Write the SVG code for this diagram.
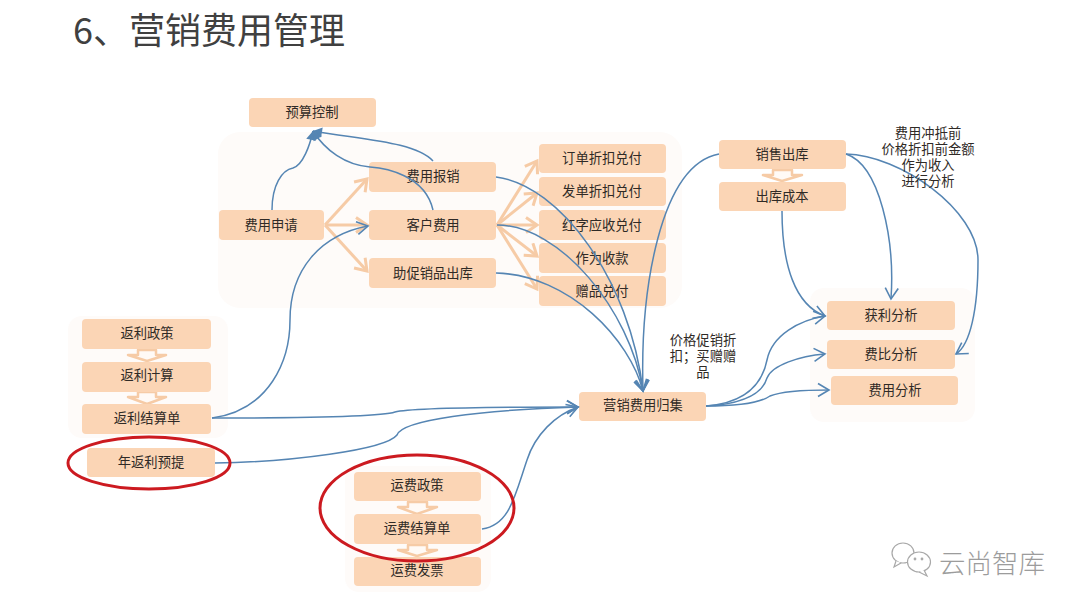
<svg xmlns="http://www.w3.org/2000/svg" width="1080" height="608" viewBox="0 0 1080 608">
<defs>
<style>
text{font-family:"Noto Sans CJK SC","Liberation Sans",sans-serif;text-anchor:middle;dominant-baseline:central}
.n rect{fill:#fbd5b5;rx:4px;ry:4px}
.n text,.l{font-size:13.3px;fill:#2f2a26}
.l{font-family:"Liberation Sans","Noto Sans CJK SC",sans-serif}
.n text{transform:translateY(-1px)}
.bg{fill:#fefbf9}
.o{fill:none;stroke:#f6cba6;stroke-width:3;marker-end:url(#po)}
.b{fill:none;stroke:#5585b3;stroke-width:1.5}
.ba{marker-end:url(#bo)}
.blk{fill:#fffaf6;stroke:#f6cba6;stroke-width:2.5;stroke-linejoin:round}
.ring{fill:none;stroke:#cc1a20;stroke-width:3}
</style>
<marker id="po" markerUnits="userSpaceOnUse" markerWidth="20" markerHeight="20" refX="13" refY="9" orient="auto"><path d="M2,1.5L13,9L2,16.5" fill="none" stroke="#f6cba6" stroke-width="3"/></marker>
<marker id="bo" markerUnits="userSpaceOnUse" markerWidth="18" markerHeight="18" refX="14" refY="8" orient="auto"><path d="M3,1.5L14,8L3,14.5" fill="none" stroke="#5585b3" stroke-width="1.6"/></marker>
<marker id="bf" markerUnits="userSpaceOnUse" markerWidth="14" markerHeight="14" refX="10" refY="6" orient="auto"><path d="M1,1L10,6L1,11Z" fill="#5585b3"/></marker>
</defs>
<rect width="1080" height="608" fill="#fff"/>
<text x="209" y="28" style="font-size:36px;fill:#404040">6、营销费用管理</text>
<rect class="bg" x="218" y="132" width="464" height="176" rx="22"/>
<rect class="bg" x="68" y="316" width="160" height="122" rx="14"/>
<rect class="bg" x="810" y="288" width="165" height="134" rx="14"/>
<rect class="bg" x="345" y="466" width="146" height="126" rx="14"/>

<g id="blocks">
<path class="blk" d="M138,350H156V355H166L147,361L128,355H138Z"/>
<path class="blk" d="M138,392H156V397H166L147,404L128,397H138Z"/>
<path class="blk" d="M408,502H427V507H437L417,514L398,507H408Z"/>
<path class="blk" d="M408,545H427V550H437L417,556L398,550H408Z"/>
<path class="blk" d="M773,170H792V175H802L782,181L763,175H773Z"/>
</g>

<g id="n-budget" class="n"><rect x="249" y="98" width="127" height="29"/><text x="312" y="112">预算控制</text></g>
<g id="n-apply" class="n"><rect x="219" y="210" width="105" height="30"/><text x="271" y="225">费用申请</text></g>
<g id="n-claim" class="n"><rect x="369" y="162" width="127" height="30"/><text x="433" y="176">费用报销</text></g>
<g id="n-cust" class="n"><rect x="369" y="210" width="127" height="30"/><text x="433" y="225">客户费用</text></g>
<g id="n-promo" class="n"><rect x="369" y="258" width="127" height="30"/><text x="433" y="273">助促销品出库</text></g>
<g id="n-p1" class="n"><rect x="539" y="144" width="127" height="29"/><text x="602" y="158">订单折扣兑付</text></g>
<g id="n-p2" class="n"><rect x="539" y="177" width="127" height="29"/><text x="602" y="191">发单折扣兑付</text></g>
<g id="n-p3" class="n"><rect x="539" y="210" width="127" height="30"/><text x="602" y="225">红字应收兑付</text></g>
<g id="n-p4" class="n"><rect x="539" y="243" width="127" height="30"/><text x="602" y="258">作为收款</text></g>
<g id="n-p5" class="n"><rect x="539" y="276" width="127" height="30"/><text x="602" y="291">赠品兑付</text></g>
<g id="n-r1" class="n"><rect x="82" y="319" width="129" height="30"/><text x="147" y="333">返利政策</text></g>
<g id="n-r2" class="n"><rect x="82" y="362" width="129" height="30"/><text x="147" y="375">返利计算</text></g>
<g id="n-r3" class="n"><rect x="82" y="404" width="129" height="30"/><text x="147" y="418">返利结算单</text></g>
<g id="n-r4" class="n"><rect x="87" y="448" width="128" height="29"/><text x="151" y="462">年返利预提</text></g>
<g id="n-f1" class="n"><rect x="354" y="472" width="127" height="29"/><text x="417" y="485">运费政策</text></g>
<g id="n-f2" class="n"><rect x="354" y="514" width="127" height="30"/><text x="417" y="528">运费结算单</text></g>
<g id="n-f3" class="n"><rect x="354" y="557" width="127" height="29"/><text x="417" y="570">运费发票</text></g>
<g id="n-s1" class="n"><rect x="719" y="140" width="127" height="29"/><text x="782" y="154">销售出库</text></g>
<g id="n-s2" class="n"><rect x="719" y="182" width="127" height="29"/><text x="782" y="196">出库成本</text></g>
<g id="n-hub" class="n"><rect x="579" y="392" width="127" height="29"/><text x="643" y="405">营销费用归集</text></g>
<g id="n-a1" class="n"><rect x="827" y="301" width="128" height="29"/><text x="891" y="315">获利分析</text></g>
<g id="n-a2" class="n"><rect x="827" y="340" width="128" height="29"/><text x="891" y="354">费比分析</text></g>
<g id="n-a3" class="n"><rect x="831" y="376" width="127" height="29"/><text x="895" y="390">费用分析</text></g>

<g id="connectors">
<path class="o" d="M325,225L367,179"/>
<path class="o" d="M325,225L367,225"/>
<path class="o" d="M325,225L367,271"/>
<path class="o" d="M497,225L537,161"/>
<path class="o" d="M497,225L537,193"/>
<path class="o" d="M497,225L537,225"/>
<path class="o" d="M497,225L537,256"/>
<path class="o" d="M497,225L537,289"/>
<path class="b" marker-end="url(#bf)" d="M272,210C272,185 282,170 293,168C303,165 310,145 313,131"/>
<path class="b" marker-end="url(#bf)" d="M433,161C415,142 365,140 313,131"/>
<path class="b" marker-end="url(#bf)" d="M433,210C425,175 385,168 370,167C345,165 325,150 313,131"/>
<path class="b ba" d="M496,177C560,185 630,280 643,391"/>
<path class="b ba" d="M497,225C560,225 630,310 643,391"/>
<path class="b ba" d="M496,273C570,275 630,340 643,391"/>
<path class="b ba" d="M719,154C660,165 640,290 643,391"/>
<path class="b ba" d="M212,418C270,410 290,360 290,320C290,270 320,235 368,226"/>
<path class="b ba" d="M212,418C300,418 380,417 395,412C410,408 500,407 578,407"/>
<path class="b ba" d="M215,463C290,462 385,450 397,435C402,420 480,410 578,407"/>
<path class="b ba" d="M482,529C510,525 515,495 527,460C535,435 555,415 578,407"/>
<path class="b ba" d="M706,406C745,403 762,385 767,360C772,335 800,320 825,316"/>
<path class="b ba" d="M706,406C740,404 762,395 767,378C772,365 800,356 825,354"/>
<path class="b ba" d="M706,406C735,406 760,403 770,396C780,392 805,390 829,390"/>
<path class="b ba" d="M846,154C880,165 895,240 891,299"/>
<path class="b ba" d="M846,154C900,155 978,210 978,260C978,310 970,345 956,354"/>
<path class="b ba" d="M782,211C782,265 795,305 825,316"/>
</g>

<ellipse class="ring" cx="149" cy="463" rx="81" ry="26"/>
<ellipse class="ring" cx="417" cy="508" rx="97" ry="53"/>

<g id="labels">
<text class="l" x="703" y="340"><tspan x="703">价格促销折</tspan><tspan x="703" dy="16">扣；买赠赠</tspan><tspan x="703" dy="16">品</tspan></text>
<text class="l" x="928" y="133"><tspan x="928">费用冲抵前</tspan><tspan x="928" dy="16">价格折扣前金额</tspan><tspan x="928" dy="16">作为收入</tspan><tspan x="928" dy="16">进行分析</tspan></text>
</g>

<g id="watermark" fill="#fff" stroke="#a8a8a8" stroke-width="1.2">
<ellipse cx="903" cy="553" rx="11" ry="10"/>
<path d="M896,561L894,567L901,563" />
<ellipse cx="919" cy="562" rx="11.5" ry="10"/>
<path d="M924,570L927,576L919,572"/>
<circle cx="915" cy="559" r=".8"/><circle cx="922" cy="559" r=".8"/>
</g>
<text x="992" y="561" style="font-size:26.5px;fill:#9c9c9c;font-weight:300">云尚智库</text>
</svg>
